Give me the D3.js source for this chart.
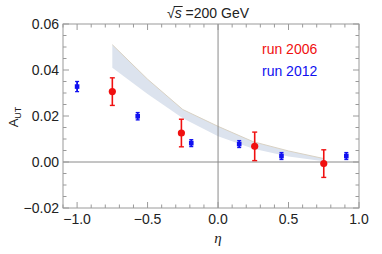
<!DOCTYPE html>
<html>
<head>
<meta charset="utf-8">
<title>A_UT vs eta</title>
<script src="https://d3js.org/d3.v7.min.js"></script>
<style>
body { margin: 0; background: #fff; }
text { font-family: "Liberation Sans", Arial, sans-serif; }
</style>
</head>
<body>
<script type="text/javascript">

// run 2012 (blue squares)
var blueEta = [-1.0, -0.57, -0.19, 0.15, 0.45, 0.91];
var blueVal = [0.0328, 0.0199, 0.0082, 0.0078, 0.0026, 0.0026];
var blueErr = [0.0022, 0.0016, 0.0015, 0.0015, 0.0015, 0.0015];

// run 2006 (red circles)
var redEta = [-0.75, -0.26, 0.26, 0.75];
var redVal = [0.0306, 0.0126, 0.0068, -0.0007];
var redErr = [0.006, 0.006, 0.0062, 0.006];

// theory band
var bandEta = [-0.75, -0.5, -0.25, 0, 0.25, 0.5, 0.75];
var bandHi  = [0.051, 0.036, 0.0228, 0.0155, 0.0088, 0.0048, 0.0015];
var bandLo  = [0.041, 0.0296, 0.0190, 0.0112, 0.0058, 0.0024, 0.0003];

var xTicks = [-1.0, -0.5, 0.0, 0.5, 1.0];
var yTicks = [-0.02, 0.00, 0.02, 0.04, 0.06];

var width = 382, height = 254;
var pL = 63, pR = 359, pT = 24, pB = 208;

var x = d3.scaleLinear().domain([-1.1, 1.0]).range([pL, pR]);
var y = d3.scaleLinear().domain([-0.02, 0.06]).range([pB, pT]);

var svg = d3.select("body").append("svg")
    .attr("width", width)
    .attr("height", height);

var frameColor = "#9a9a9a";

// band
var band = bandEta.map(function(e, i) { return { e: e, hi: bandHi[i], lo: bandLo[i] }; });
svg.append("path")
    .datum(band)
    .attr("d", d3.area().x(d => x(d.e)).y0(d => y(d.lo)).y1(d => y(d.hi)))
    .style("fill", "#dce3ee");
svg.append("path")
    .datum(band)
    .attr("d", d3.line().x(d => x(d.e)).y(d => y(d.hi)))
    .style("fill", "none")
    .style("stroke", "#d9d2c4")
    .style("stroke-width", 1);

// zero lines
svg.append("line")
    .attr("x1", pL).attr("x2", pR)
    .attr("y1", y(0)).attr("y2", y(0))
    .style("stroke", "#8a8a8a").style("stroke-width", 1);
svg.append("line")
    .attr("x1", x(0)).attr("x2", x(0))
    .attr("y1", pT).attr("y2", pB)
    .style("stroke", "#8a8a8a").style("stroke-width", 1);

// frame
svg.append("rect")
    .attr("x", pL).attr("y", pT)
    .attr("width", pR - pL).attr("height", pB - pT)
    .style("fill", "none").style("stroke", frameColor).style("stroke-width", 1);

// ticks, inside the frame on all sides
var ticks = svg.append("g").style("stroke", frameColor).style("stroke-width", 1);
d3.range(-11, 11).forEach(function(k) {
    var v = k / 10;
    var major = Math.abs(k % 5) === 0;
    var len = major ? 6 : 3.5;
    var px = x(v);
    ticks.append("line").attr("x1", px).attr("x2", px).attr("y1", pB).attr("y2", pB - len);
    ticks.append("line").attr("x1", px).attr("x2", px).attr("y1", pT).attr("y2", pT + len);
});
d3.range(-4, 13).forEach(function(k) {
    var v = k * 0.005;
    var major = k % 4 === 0;
    var len = major ? 6 : 3.5;
    var py = y(v);
    ticks.append("line").attr("x1", pL).attr("x2", pL + len).attr("y1", py).attr("y2", py);
    ticks.append("line").attr("x1", pR).attr("x2", pR - len).attr("y1", py).attr("y2", py);
});

// tick labels
var fmt = function(v) { return d3.format(".1f")(v).replace("-", "\u2212"); };
svg.append("g").selectAll("text")
    .data(xTicks).enter().append("text")
    .attr("x", d => x(d)).attr("y", 224)
    .attr("text-anchor", "middle")
    .style("font-size", "14px").style("fill", "#222")
    .text(fmt);
svg.append("g").selectAll("text")
    .data(yTicks).enter().append("text")
    .attr("x", 59).attr("y", d => y(d) + 5)
    .attr("text-anchor", "end")
    .style("font-size", "14px").style("fill", "#222")
    .text(d => d3.format(".2f")(d).replace("-", "\u2212"));

// title
var title = svg.append("text")
    .attr("x", 208).attr("y", 18)
    .attr("text-anchor", "middle")
    .style("font-size", "14px").style("fill", "#222");
title.append("tspan").text("\u221A");
var sSpan = title.append("tspan").style("font-style", "italic").text("s");
title.append("tspan").text(" =200 GeV");
var sb = sSpan.node().getBBox();
svg.append("line")
    .attr("x1", sb.x - 1).attr("x2", sb.x + sb.width + 1)
    .attr("y1", sb.y + 1.5).attr("y2", sb.y + 1.5)
    .style("stroke", "#222").style("stroke-width", 1);

// axis labels
svg.append("text")
    .attr("x", 218).attr("y", 243)
    .attr("text-anchor", "middle")
    .style("font-family", "'Liberation Serif', serif")
    .style("font-style", "italic")
    .style("font-size", "15px").style("fill", "#222")
    .text("\u03B7");
var yl = svg.append("text")
    .attr("transform", "translate(18,117) rotate(-90)")
    .attr("text-anchor", "middle")
    .style("font-size", "13px").style("fill", "#222");
yl.append("tspan").text("A");
yl.append("tspan").attr("dy", 3).style("font-size", "9px").text("UT");

// red points (run 2006)
var red = redEta.map(function(e, i) { return { e: e, v: redVal[i], err: redErr[i] }; });
var rg = svg.append("g").style("stroke", "#f01010").style("fill", "#f01010");
rg.selectAll("line.bar").data(red).enter().append("line")
    .attr("x1", d => x(d.e)).attr("x2", d => x(d.e))
    .attr("y1", d => y(d.v - d.err)).attr("y2", d => y(d.v + d.err))
    .style("stroke-width", 1.6);
[-1, 1].forEach(function(s) {
    rg.selectAll(null).data(red).enter().append("line")
        .attr("x1", d => x(d.e) - 2.5).attr("x2", d => x(d.e) + 2.5)
        .attr("y1", d => y(d.v + s * d.err)).attr("y2", d => y(d.v + s * d.err))
        .style("stroke-width", 1.4);
});
rg.selectAll("circle").data(red).enter().append("circle")
    .attr("cx", d => x(d.e)).attr("cy", d => y(d.v))
    .attr("r", 3.6).style("stroke", "none");

// blue points (run 2012)
var blue = blueEta.map(function(e, i) { return { e: e, v: blueVal[i], err: blueErr[i] }; });
var bg = svg.append("g").style("stroke", "#1010f0").style("fill", "#1010f0");
bg.selectAll("line.bar").data(blue).enter().append("line")
    .attr("x1", d => x(d.e)).attr("x2", d => x(d.e))
    .attr("y1", d => y(d.v - d.err)).attr("y2", d => y(d.v + d.err))
    .style("stroke-width", 1.8);
[-1, 1].forEach(function(s) {
    bg.selectAll(null).data(blue).enter().append("line")
        .attr("x1", d => x(d.e) - 2).attr("x2", d => x(d.e) + 2)
        .attr("y1", d => y(d.v + s * d.err)).attr("y2", d => y(d.v + s * d.err))
        .style("stroke-width", 1.3);
});
bg.selectAll("rect").data(blue).enter().append("rect")
    .attr("x", d => x(d.e) - 2.3).attr("y", d => y(d.v) - 2.3)
    .attr("width", 4.6).attr("height", 4.6).style("stroke", "none");

// legend
svg.append("text").attr("x", 262).attr("y", 54)
    .style("font-size", "14px").style("fill", "#f01010").text("run 2006");
svg.append("text").attr("x", 262).attr("y", 76)
    .style("font-size", "14px").style("fill", "#1010f0").text("run 2012");

</script>
</body>
</html>
